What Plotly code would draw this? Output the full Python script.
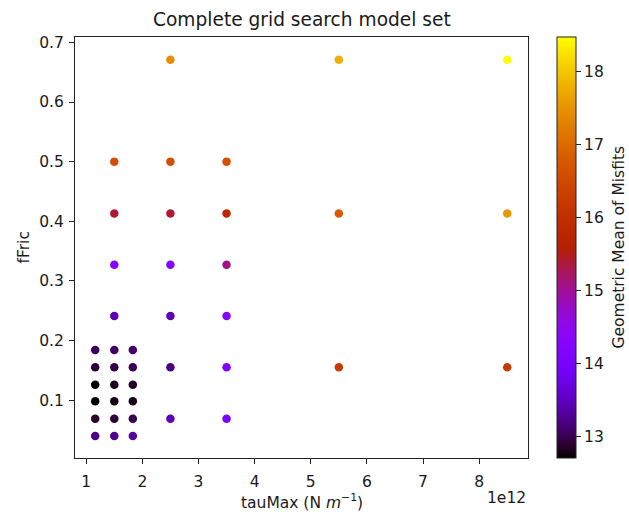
import math
import plotly.graph_objects as go

# ---- data ----
tau_max = ([1.16e12] * 6 + [1.5e12] * 10 + [1.83e12] * 6 + [2.5e12] * 7
           + [3.5e12] * 6 + [5.5e12] * 3 + [8.5e12] * 3)
f_fric = ([0.04, 0.069, 0.098, 0.126, 0.155, 0.184]
          + [0.04, 0.069, 0.098, 0.126, 0.155, 0.184, 0.241, 0.327, 0.413, 0.5]
          + [0.04, 0.069, 0.098, 0.126, 0.155, 0.184]
          + [0.069, 0.155, 0.241, 0.327, 0.413, 0.5, 0.671]
          + [0.069, 0.155, 0.241, 0.327, 0.413, 0.5]
          + [0.155, 0.413, 0.671]
          + [0.155, 0.413, 0.671])
misfit = ([13.22, 12.86, 12.70, 12.71, 12.90, 13.05]
          + [13.25, 12.90, 12.78, 12.80, 12.95, 13.08, 13.45, 14.25, 15.40, 16.60]
          + [13.36, 12.97, 12.78, 12.82, 12.98, 13.10]
          + [13.45, 13.20, 13.45, 14.25, 15.40, 16.60, 17.45]
          + [14.00, 14.10, 14.25, 15.10, 15.85, 16.65]
          + [16.20, 16.80, 17.80]
          + [16.25, 17.55, 18.48])
x_tick_vals = [1e12, 2e12, 3e12, 4e12, 5e12, 6e12, 7e12, 8e12]
x_tick_text = ["1", "2", "3", "4", "5", "6", "7", "8"]
y_tick_vals = [0.1, 0.2, 0.3, 0.4, 0.5, 0.6, 0.7]
cb_tick_vals = [13, 14, 15, 16, 17, 18]
c_min, c_max = 12.7, 18.48

# matplotlib 'gnuplot' colormap stops
def gnuplot(t):
    r = math.sqrt(t)
    g = t ** 3
    b = max(0.0, min(1.0, math.sin(2 * math.pi * t)))
    return "rgb(%d,%d,%d)" % (round(r * 255), round(g * 255), round(b * 255))

colorscale = [[i / 40, gnuplot(i / 40)] for i in range(41)]

FONT = "DejaVu Sans"
TXT = "#1a1a1a"
FS = 15.5
W, H = 629, 512
L, R, T, B = 75, 528, 37, 458

fig = go.Figure(go.Scatter(
    x=tau_max, y=f_fric, mode="markers",
    marker=dict(size=8.5, color=misfit, colorscale=colorscale,
                cmin=c_min, cmax=c_max, line=dict(width=0),
                colorbar=dict(
                    x=(557 - L) / (R - L), xanchor="left", xref="paper",
                    y=0.5, yanchor="middle", len=1, lenmode="fraction",
                    thickness=19, xpad=0, ypad=0,
                    outlinewidth=1, outlinecolor="#222",
                    tickvals=cb_tick_vals, ticks="outside", ticklen=5,
                    tickcolor="#222", tickwidth=1,
                    tickfont=dict(family=FONT, size=FS, color=TXT),
                )),
    hoverinfo="skip",
))

fig.update_layout(
    width=W, height=H,
    margin=dict(l=L, r=W - R, t=T, b=H - B, autoexpand=False),
    paper_bgcolor="white", plot_bgcolor="white",
    font=dict(family=FONT, size=FS, color=TXT),
    showlegend=False,
    xaxis=dict(range=[0.8e12, 8.87e12], tickvals=x_tick_vals, ticktext=x_tick_text,
               ticks="outside", ticklen=5, tickcolor="#222", showgrid=False,
               zeroline=False, showline=True, linecolor="#222", linewidth=1,
               mirror=True, tickfont=dict(size=FS), ticklabelstandoff=4),
    yaxis=dict(range=[0.003, 0.709], tickvals=y_tick_vals,
               ticktext=[f"{v:.1f}" for v in y_tick_vals],
               ticks="outside", ticklen=5, tickcolor="#222", showgrid=False,
               zeroline=False, showline=True, linecolor="#222", linewidth=1,
               mirror=True, tickfont=dict(size=FS), ticklabelstandoff=2),
    annotations=[
        dict(text="Complete grid search model set", xref="paper", yref="paper",
             x=0.5, y=1, yshift=5, xanchor="center", yanchor="bottom",
             showarrow=False, font=dict(size=18.6)),
        dict(text="tauMax (N <i>m</i><sup>\u22121</sup>)", xref="paper", yref="paper",
             x=0.5, y=0, yshift=-43, xanchor="center", yanchor="middle",
             showarrow=False, font=dict(size=FS)),
        dict(text="1e12", xref="paper", yref="paper",
             x=1, y=0, yshift=-40, xanchor="right", yanchor="middle",
             showarrow=False, font=dict(size=FS)),
        dict(text="fFric", xref="paper", yref="paper", textangle=-90,
             x=0, y=0.5, xshift=-52, xanchor="center", yanchor="middle",
             showarrow=False, font=dict(size=FS)),
        dict(text="Geometric Mean of Misfits", xref="paper", yref="paper",
             textangle=-90, x=1, y=0.5, xshift=90, xanchor="center",
             yanchor="middle", showarrow=False, font=dict(size=FS)),
    ],
)

fig.write_html("out.html", config={"displayModeBar": False},
               post_script="document.body.style.margin='0';"
                           "document.body.style.overflow='hidden';")
